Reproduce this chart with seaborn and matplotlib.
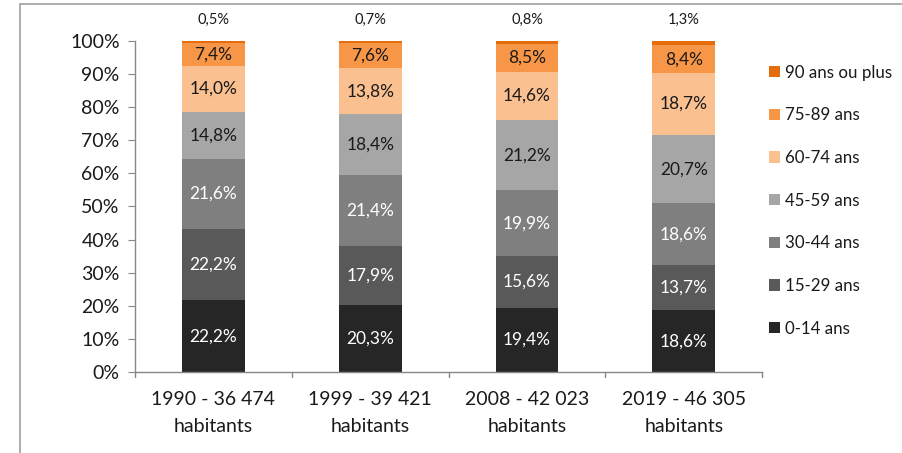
import numpy as np
import pandas as pd
import seaborn as sns
import matplotlib.pyplot as plt
from matplotlib.lines import Line2D
from matplotlib.patches import Patch

categories = ["1990 - 36 474\nhabitants", "1999 - 39 421\nhabitants",
              "2008 - 42 023\nhabitants", "2019 - 46 305\nhabitants"]
groups = ["0-14 ans", "15-29 ans", "30-44 ans", "45-59 ans",
          "60-74 ans", "75-89 ans", "90 ans ou plus"]
v_0_14 = [22.2, 20.3, 19.4, 18.6]
v_15_29 = [22.2, 17.9, 15.6, 13.7]
v_30_44 = [21.6, 21.4, 19.9, 18.6]
v_45_59 = [14.8, 18.4, 21.2, 20.7]
v_60_74 = [14.0, 13.8, 14.6, 18.7]
v_75_89 = [7.4, 7.6, 8.5, 8.4]
v_90 = [0.5, 0.7, 0.8, 1.3]

colors = ["#262626", "#595959", "#7f7f7f", "#a6a6a6", "#fac090", "#f79646", "#e46c0a"]
text_colors = ["white", "white", "white", "#1a1a1a", "#1a1a1a", "#1a1a1a", "#1a1a1a"]

sns.set_style("white")
plt.rcParams['font.family'] = ['Lato', 'DejaVu Sans']

vals = np.array([v_0_14, v_15_29, v_30_44, v_45_59, v_60_74, v_75_89, v_90])
share = vals / vals.sum(axis=0) * 100  # 100% stacked
cum = share.cumsum(axis=0)

fig = plt.figure(figsize=(9.03, 4.53), dpi=100)
ax = fig.add_axes([0.1495, 0.179, 0.6945, 0.7305])

# draw from top of stack down so lower segments sit on top
for i in range(len(groups) - 1, -1, -1):
    df = pd.DataFrame({"cat": categories, "top": cum[i]})
    sns.barplot(data=df, x="cat", y="top", color=colors[i], saturation=1,
                width=0.4, linewidth=0, ax=ax)

for i in range(len(groups)):
    for j in range(len(categories)):
        lab = f"{vals[i][j]:.1f}%".replace(".", ",")
        if i == len(groups) - 1:
            ax.text(j, 106.3, lab, ha="center", va="center", fontsize=10.5,
                    color="#1a1a1a", clip_on=False)
        else:
            mid = cum[i][j] - share[i][j] / 2
            ax.text(j, mid, lab, ha="center", va="center", fontsize=12.5,
                    color=text_colors[i])

ax.set_ylim(0, 100)
ax.set_xlim(-0.5, 3.5)
ax.set_yticks(np.arange(0, 101, 10))
ax.set_yticklabels([f"{t}%" for t in range(0, 101, 10)], fontsize=14, color="#1a1a1a")
ax.set_xticks(range(4))
ax.set_xticklabels(categories, fontsize=14, color="#1a1a1a", linespacing=1.7)
ax.tick_params(axis="x", length=0, pad=14)
ax.tick_params(axis="y", length=5, color="#888888", direction="out", left=True, pad=6)
# tick marks at category boundaries
for b in np.arange(-0.5, 4, 1):
    ax.plot([b, b], [0, -1.6], color="#888888", lw=1, clip_on=False)
ax.set_xlabel("")
ax.set_ylabel("")
for s in ["top", "right"]:
    ax.spines[s].set_visible(False)
for s in ["left", "bottom"]:
    ax.spines[s].set_color("#888888")
    ax.spines[s].set_linewidth(1)

handles = [Patch(facecolor=colors[i], edgecolor="none") for i in range(len(groups) - 1, -1, -1)]
labels = groups[::-1]
fig.legend(handles, labels, loc="upper left", bbox_to_anchor=(0.835, 0.891),
           frameon=False, fontsize=12.2, handlelength=0.65, handleheight=0.65,
           handletextpad=0.3, labelspacing=1.575, labelcolor="#1a1a1a")

# outer frame remnants
fig.add_artist(Line2D([20 / 903, 1], [1 - 4 / 453, 1 - 4 / 453], color="#a0a0a0", lw=1.2))
fig.add_artist(Line2D([20 / 903, 20 / 903], [0, 1 - 4 / 453], color="#a0a0a0", lw=1.2))

fig.savefig("out.png", dpi=100)
